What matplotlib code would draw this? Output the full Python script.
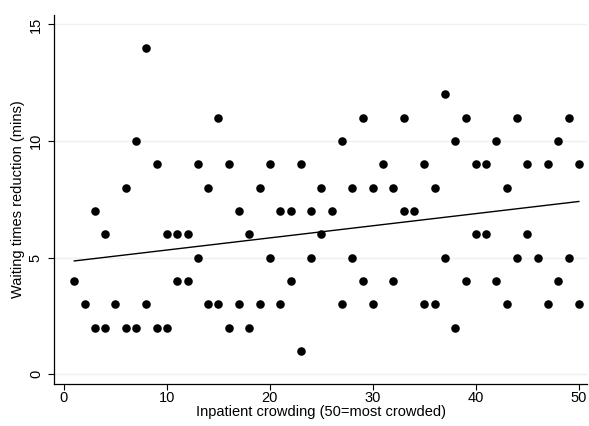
import numpy as np
import matplotlib
matplotlib.use("Agg")
import matplotlib.pyplot as plt

plt.rcParams['font.family'] = ['Liberation Sans', 'DejaVu Sans']

# Inpatient crowding level and waiting-time reduction (mins)
crowding = [1, 2, 3, 3, 4, 4, 5, 6, 6, 7, 7, 8, 8, 9, 9, 10, 10,
            11, 11, 12, 12, 13, 13, 14, 14, 15, 15, 16, 16, 17, 17, 18, 18,
            19, 19, 20, 20, 21, 21, 22, 22, 23, 23, 24, 24, 25, 25, 26,
            27, 27, 28, 28, 29, 29, 30, 30, 31, 32, 32, 33, 33, 34,
            35, 35, 36, 36, 37, 37, 38, 38, 39, 39, 40, 40, 41, 41, 42, 42,
            43, 43, 44, 44, 45, 45, 46, 47, 47, 48, 48, 49, 49, 50, 50]
reduction = [4, 3, 7, 2, 6, 2, 3, 8, 2, 10, 2, 14, 3, 9, 2, 6, 2,
             6, 4, 6, 4, 9, 5, 8, 3, 11, 3, 9, 2, 7, 3, 6, 2,
             8, 3, 9, 5, 7, 3, 7, 4, 9, 1, 7, 5, 8, 6, 7,
             10, 3, 8, 5, 11, 4, 8, 3, 9, 8, 4, 11, 7, 7,
             9, 3, 8, 3, 12, 5, 10, 2, 11, 4, 9, 6, 9, 6, 10, 4,
             8, 3, 11, 5, 9, 6, 5, 9, 3, 10, 4, 11, 5, 9, 3]

x_ticks = [0, 10, 20, 30, 40, 50]
y_ticks = [0, 5, 10, 15]

x = np.array(crowding, dtype=float)
y = np.array(reduction, dtype=float)
slope, intercept = np.polyfit(x, y, 1)
fit_x = np.array([x.min(), x.max()])
fit_y = intercept + slope * fit_x

fig = plt.figure(figsize=(5.89, 4.26), dpi=100)
ax = fig.add_axes([0.0917, 0.0986, 0.905, 0.866])

for t in y_ticks:
    ax.axhline(t, color='#eaf2f3', lw=1.0, zorder=0)

ax.scatter(x, y, s=38, color='black', zorder=3, linewidths=0)
ax.plot(fit_x, fit_y, color='black', lw=1.0, zorder=4)

ax.set_xlim(-0.97, 50.8)
ax.set_ylim(-0.42, 15.4)
ax.set_xticks(x_ticks)
ax.set_yticks(y_ticks)
ax.set_yticklabels([str(t) for t in y_ticks], rotation=90, va='center')
ax.tick_params(axis='both', direction='out', length=4, width=0.8,
               labelsize=10.5, colors='black')
ax.tick_params(axis='x', pad=1)
ax.tick_params(axis='y', pad=4)

for side in ('top', 'right'):
    ax.spines[side].set_visible(False)
for side in ('left', 'bottom'):
    ax.spines[side].set_linewidth(0.9)

ax.set_xlabel('Inpatient crowding (50=most crowded)', fontsize=10.5, labelpad=0)
ax.set_ylabel('Waiting times reduction (mins)', fontsize=10.5, labelpad=3)

fig.savefig('out.png', dpi=100, facecolor='white')
